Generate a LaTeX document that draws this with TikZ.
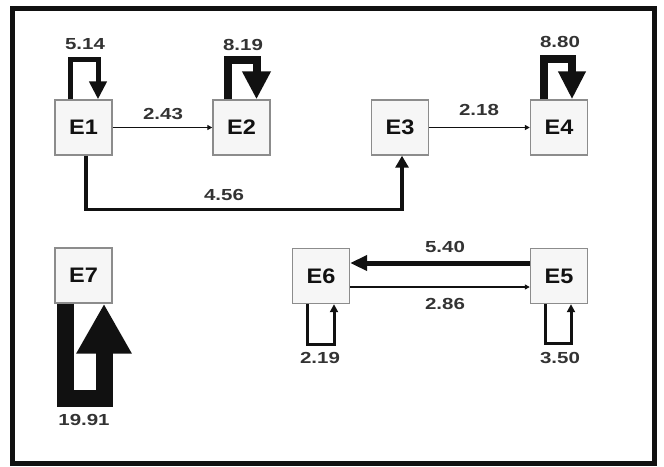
\documentclass[tikz,border=0pt]{standalone}
\usepackage{fontspec}
\usetikzlibrary{arrows.meta}
\newfontfamily\nodefont[FakeStretch=1.12]{Liberation Sans}
\newfontfamily\lblfont[FakeStretch=1.28]{Liberation Sans}
\definecolor{boxfill}{HTML}{F6F6F6}
\definecolor{boxline}{HTML}{8C8C8C}
\definecolor{lbl}{HTML}{333333}
\definecolor{ink}{HTML}{111111}
\tikzset{
  state/.style={draw=boxline, fill=boxfill, line width=1.4pt, minimum width=57pt, minimum height=55pt, inner sep=0pt, font=\nodefont\bfseries\fontsize{21}{21}\selectfont, text=ink},
  lab/.style={font=\lblfont\bfseries\fontsize{16}{16}\selectfont, text=lbl, inner sep=0pt},
  flow/.style={draw=ink, line join=miter},
}
\begin{document}
\begin{tikzpicture}[x=1pt,y=-1pt]
\useasboundingbox (0,0) rectangle (664,466);
\draw[line width=5pt, draw=ink] (12,8) rectangle (654.5,463.5);

\node[state] (E1) at (83.5,127.5) {E1};
\node[state] (E2) at (241.5,127.5) {E2};
\node[state] (E3) at (400,127.5) {E3};
\node[state] (E4) at (559,127.5) {E4};
\node[state] (E7) at (83.5,275.5) {E7};
\node[state] (E6) at (321,276) {E6};
\node[state] (E5) at (559,276) {E5};

% self loops
\draw[flow, line width=5pt, -{Triangle[width=17pt,length=18pt]}]
  ([xshift=-13.5pt]E1.north) -- ++(0,-40) -| ([xshift=14.5pt]E1.north);
\draw[flow, line width=8pt, -{Triangle[width=27pt,length=28pt]}]
  ([xshift=-13.5pt]E2.north) -- ++(0,-39) -| ([xshift=15pt]E2.north);
\draw[flow, line width=8pt, -{Triangle[width=26pt,length=28pt]}]
  ([xshift=-15pt]E4.north) -- ++(0,-40) -| ([xshift=13pt]E4.north);
\draw[flow, line width=17pt, -{Triangle[width=52pt,length=50pt]}]
  ([xshift=-18.5pt]E7.south) -- ++(0,95) -| ([xshift=20.5pt]E7.south);
\draw[flow, line width=3pt, -{Triangle[width=8pt,length=8pt]}]
  ([xshift=-14pt]E6.south) -- ++(0,40) -| ([xshift=13pt]E6.south);
\draw[flow, line width=3pt, -{Triangle[width=8pt,length=8pt]}]
  ([xshift=-14pt]E5.south) -- ++(0,39.5) -| ([xshift=12pt]E5.south);

% transitions
\draw[flow, line width=1.5pt, -{Triangle[width=5pt,length=5pt]}] (E1.east) -- (E2.west);
\draw[flow, line width=1.5pt, -{Triangle[width=5pt,length=5pt]}] (E3.east) -- (E4.west);
\draw[flow, line width=3.5pt, -{Triangle[width=13pt,length=12pt]}]
  ([xshift=2.5pt]E1.south) -- ++(0,54) -| ([xshift=2pt]E3.south);
\draw[flow, line width=5pt, -{Triangle[width=15pt,length=17pt]}]
  ([yshift=13pt]E5.west) -- ([yshift=13pt]E6.east);
\draw[flow, line width=1.5pt, -{Triangle[width=5pt,length=5pt]}]
  ([yshift=-11pt]E6.east) -- ([yshift=-11pt]E5.west);

% labels
\node[lab] (l514) at (85,44) {5.14};
\node[lab] (l819) at (243,45) {8.19};
\node[lab] (l880) at (560,42) {8.80};
\node[lab] (l243) at (163,114) {2.43};
\node[lab] (l218) at (479,110) {2.18};
\node[lab] (l456) at (224,195) {4.56};
\node[lab] (l540) at (445,247) {5.40};
\node[lab] (l286) at (445,304) {2.86};
\node[lab] (l219) at (320,358) {2.19};
\node[lab] (l350) at (560,358) {3.50};
\node[lab] (l1991) at (84,419.5) {19.91};
\end{tikzpicture}
\end{document}
